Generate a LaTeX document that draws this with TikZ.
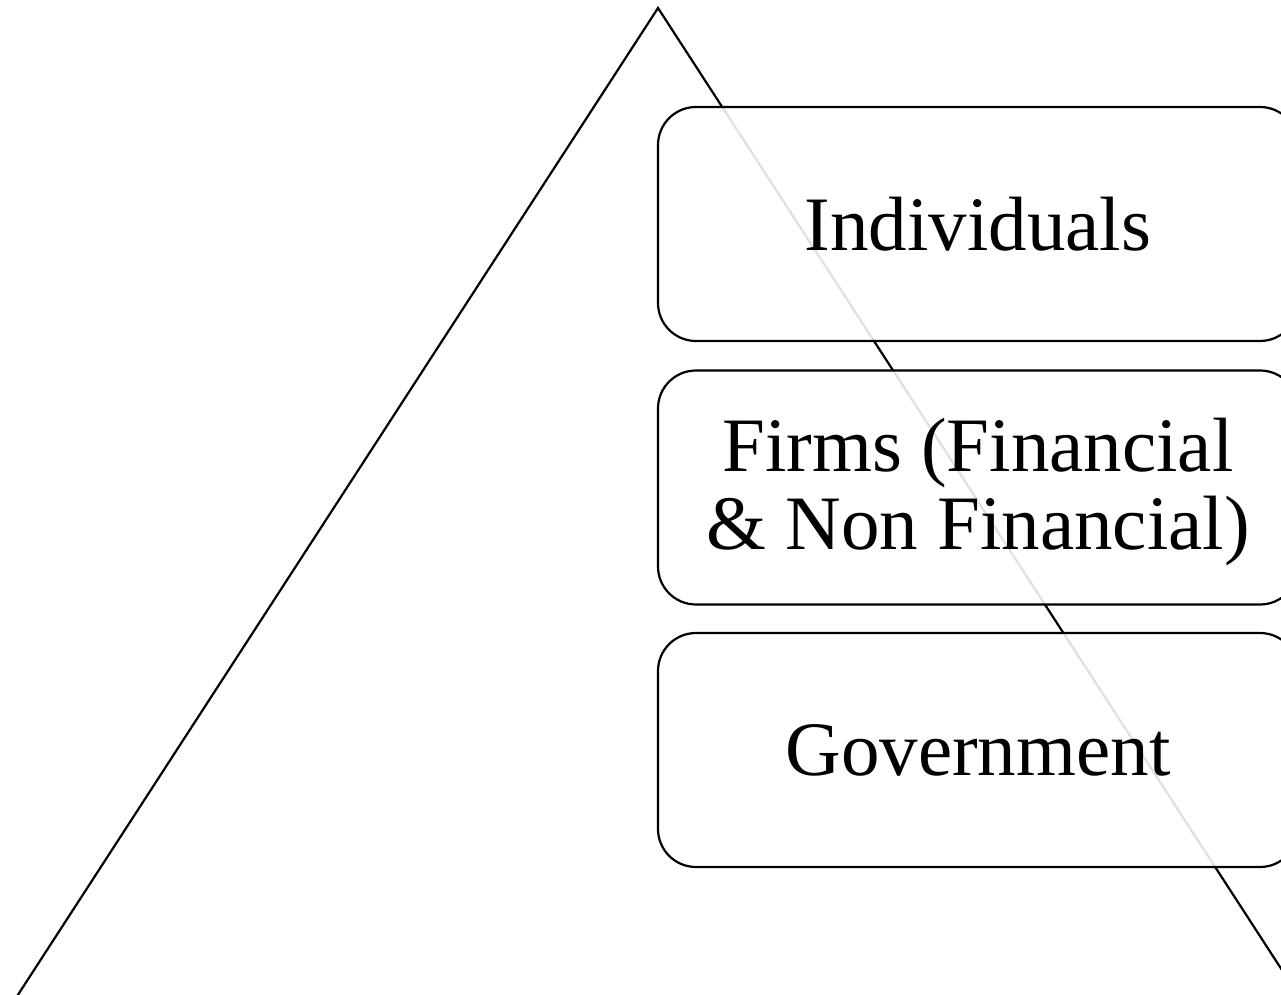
\documentclass[tikz,border=0pt]{standalone}
\usepackage{fontspec}
\setmainfont{Liberation Serif}
\usepackage{tikz}

\begin{document}
\begin{tikzpicture}[x=1pt,y=1pt,
  tier/.style={draw=drawColor,line width=2.2pt,rounded corners=38pt,
    fill=fillColor,fill opacity=0.88,text opacity=1,
    minimum width=640pt,minimum height=234pt,inner sep=0pt,
    align=center,font=\fontsize{77}{78}\selectfont}]
\definecolor{fillColor}{RGB}{255,255,255}
\definecolor{drawColor}{RGB}{0,0,0}
\path[use as bounding box,fill=fillColor] (0,0) rectangle (1281,994);
\begin{scope}
\path[clip] (  0.00,  0.00) rectangle (1281,994);

% pyramid outline, base runs below the page
\coordinate (apex) at (658,986);
\coordinate (baseL) at (12,-10);
\coordinate (baseR) at (1304,-10);
\draw[draw=drawColor,line width=2.2pt,line join=miter] (baseL) -- (apex) -- (baseR);

% the three tiers
\node[tier] (indiv) at (978,770) {Individuals};
\node[tier] (firms) at (978,506.5) {};
\node[align=center,font=\fontsize{77}{78}\selectfont,inner sep=0pt]
  (firmstext) at (978,502.5) {Firms (Financial\\ \& Non Financial)};
\node[tier] (govt) at (978,244) {Government};
\end{scope}
\end{tikzpicture}
\end{document}
